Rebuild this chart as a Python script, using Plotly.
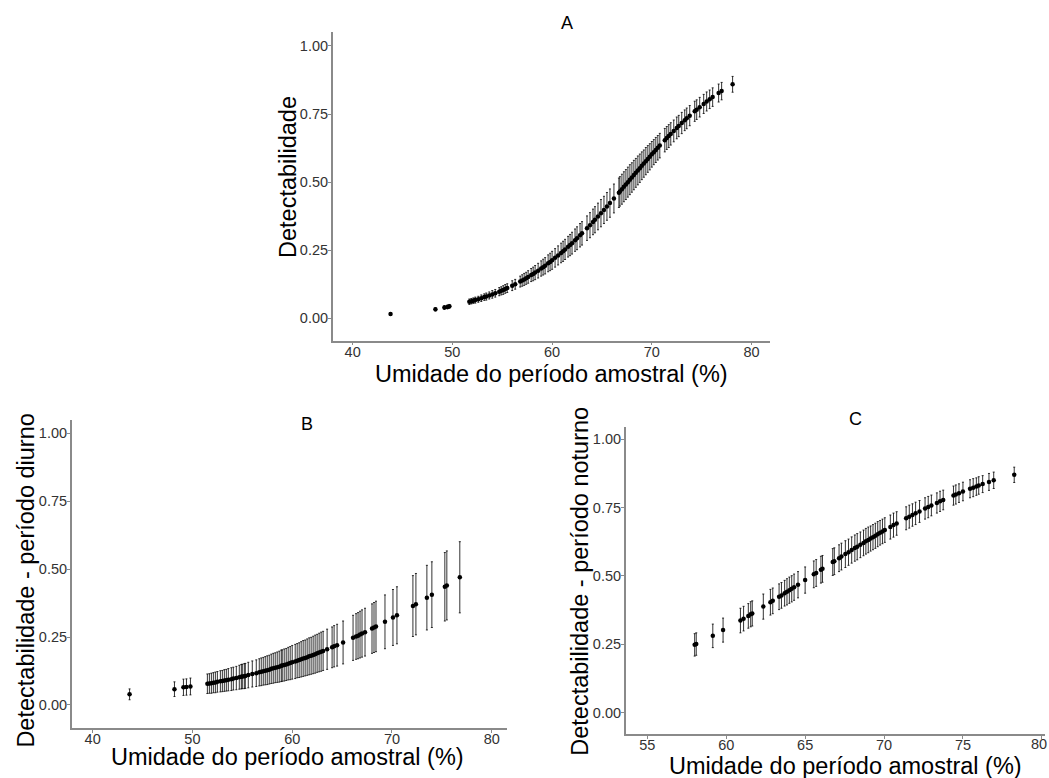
import plotly.graph_objects as go

# ---------------- data ----------------
A_x = [43.8, 48.3, 49.2, 49.5, 49.7,
       51.7, 51.9, 52.1, 52.3, 52.6, 52.9, 53.2, 53.4, 53.7, 54.0, 54.3, 54.7, 54.9, 55.1, 55.3, 55.5,
       56.0, 56.3,
       56.8, 57.0, 57.2, 57.4, 57.6, 57.9, 58.1, 58.3, 58.6, 58.9, 59.1, 59.3, 59.6, 59.8, 60.0, 60.3,
       60.6, 60.9, 61.1, 61.3, 61.6, 61.8, 62.0, 62.3, 62.5, 62.8, 63.0, 63.5, 63.8, 64.1, 64.3, 64.6,
       64.9, 65.2, 65.5, 65.8, 66.2,
       66.7, 66.8, 67.0, 67.2, 67.4, 67.6, 67.8, 68.0, 68.2, 68.4, 68.6, 68.8, 69.0, 69.2, 69.4, 69.6,
       69.8, 70.0, 70.2, 70.4, 70.6, 70.8,
       71.3, 71.5, 71.7, 71.9, 72.2, 72.5, 72.7, 73.0, 73.3, 73.5, 73.8,
       74.3, 74.5, 74.8, 75.2, 75.5, 75.8, 76.1, 76.7, 77.0, 78.1]
A_y = [0.016, 0.033, 0.040, 0.042, 0.044,
       0.061, 0.063, 0.065, 0.067, 0.070, 0.074, 0.078, 0.080, 0.084, 0.088, 0.092, 0.098, 0.101, 0.104, 0.108, 0.111,
       0.120, 0.125,
       0.135, 0.139, 0.143, 0.147, 0.152, 0.159, 0.163, 0.168, 0.175, 0.183, 0.188, 0.193, 0.202, 0.207, 0.213, 0.222,
       0.231, 0.240, 0.246, 0.253, 0.263, 0.269, 0.276, 0.287, 0.294, 0.305, 0.312, 0.331, 0.342, 0.354, 0.362, 0.374,
       0.386, 0.398, 0.411, 0.423, 0.440,
       0.461, 0.466, 0.474, 0.483, 0.491, 0.500, 0.509, 0.517, 0.526, 0.534, 0.543, 0.551, 0.560, 0.568, 0.577, 0.585,
       0.593, 0.602, 0.610, 0.618, 0.626, 0.634,
       0.654, 0.662, 0.669, 0.677, 0.688, 0.699, 0.706, 0.717, 0.727, 0.734, 0.744,
       0.760, 0.766, 0.775, 0.787, 0.796, 0.804, 0.812, 0.827, 0.834, 0.859]
A_err = [0.005, 0.006, 0.007, 0.007, 0.007,
         0.010, 0.010, 0.010, 0.011, 0.011, 0.012, 0.012, 0.013, 0.013, 0.014, 0.014, 0.015, 0.015, 0.016, 0.016, 0.016,
         0.018, 0.018,
         0.020, 0.021, 0.022, 0.022, 0.023, 0.024, 0.025, 0.026, 0.027, 0.028, 0.029, 0.030, 0.031, 0.032, 0.033, 0.034,
         0.035, 0.036, 0.037, 0.037, 0.038, 0.039, 0.040, 0.041, 0.042, 0.043, 0.043, 0.045, 0.046, 0.047, 0.048, 0.049,
         0.050, 0.050, 0.051, 0.052, 0.053,
         0.054, 0.054, 0.055, 0.055, 0.055, 0.055, 0.055, 0.054, 0.054, 0.053, 0.053, 0.052, 0.051, 0.050, 0.050, 0.049,
         0.048, 0.047, 0.046, 0.046, 0.045, 0.045,
         0.043, 0.042, 0.042, 0.041, 0.040, 0.040, 0.039, 0.039, 0.038, 0.038, 0.037,
         0.037, 0.036, 0.036, 0.035, 0.035, 0.034, 0.034, 0.033, 0.032, 0.029]

B_x = [43.7, 48.2, 49.1, 49.4, 49.8,
       51.5, 51.7, 51.9, 52.1, 52.3, 52.5, 52.8, 53.0, 53.2, 53.4, 53.6, 53.9, 54.1, 54.4, 54.7, 54.9, 55.0, 55.2, 55.3, 55.6,
       56.0, 56.4, 56.7, 56.9, 57.1, 57.3, 57.5, 57.7, 57.9, 58.1, 58.3, 58.5, 58.7, 58.9, 59.0, 59.2, 59.4, 59.6, 59.8, 60.0,
       60.3, 60.5, 60.7, 60.9, 61.1, 61.3, 61.5, 61.7, 61.9, 62.1, 62.3, 62.5, 62.7, 62.9, 63.1, 63.5,
       64.0, 64.2, 64.5, 65.1, 66.1, 66.4, 66.6, 66.8, 67.0, 67.3, 68.0, 68.2, 68.4, 69.3, 70.1, 70.5,
       72.1, 72.4, 73.5, 74.0, 75.3, 75.5, 76.8]
B_y = [0.039, 0.058, 0.065, 0.066, 0.068,
       0.078, 0.079, 0.080, 0.082, 0.083, 0.085, 0.087, 0.088, 0.090, 0.091, 0.093, 0.095, 0.097, 0.099, 0.102, 0.104, 0.105, 0.106, 0.107, 0.110,
       0.114, 0.117, 0.120, 0.122, 0.124, 0.126, 0.128, 0.130, 0.133, 0.135, 0.137, 0.139, 0.141, 0.144, 0.145, 0.147, 0.149, 0.152, 0.154, 0.157,
       0.160, 0.163, 0.165, 0.168, 0.171, 0.173, 0.176, 0.179, 0.181, 0.184, 0.187, 0.190, 0.193, 0.196, 0.199, 0.205,
       0.212, 0.216, 0.220, 0.230, 0.247, 0.252, 0.255, 0.259, 0.263, 0.268, 0.281, 0.285, 0.289, 0.306, 0.322, 0.330,
       0.364, 0.371, 0.395, 0.406, 0.435, 0.440, 0.470]
B_err = [0.020, 0.027, 0.030, 0.030, 0.031,
         0.036, 0.036, 0.037, 0.037, 0.038, 0.038, 0.039, 0.039, 0.040, 0.040, 0.041, 0.042, 0.042, 0.043, 0.044, 0.045, 0.045, 0.046, 0.046, 0.047,
         0.048, 0.049, 0.050, 0.051, 0.051, 0.052, 0.053, 0.053, 0.054, 0.055, 0.055, 0.056, 0.057, 0.058, 0.058, 0.059, 0.059, 0.060, 0.061, 0.062,
         0.063, 0.063, 0.064, 0.065, 0.066, 0.066, 0.067, 0.068, 0.068, 0.069, 0.070, 0.070, 0.071, 0.072, 0.072, 0.074,
         0.075, 0.076, 0.077, 0.079, 0.083, 0.084, 0.085, 0.086, 0.087, 0.088, 0.091, 0.092, 0.093, 0.099, 0.103, 0.105,
         0.112, 0.113, 0.119, 0.121, 0.126, 0.127, 0.131]

C_x = [58.0, 58.1, 59.15, 59.8, 60.9, 61.1, 61.4, 61.55, 61.65, 62.35,
       62.8, 62.95, 63.35, 63.5, 63.7, 63.85, 64.0, 64.15, 64.3, 64.55,
       65.0, 65.55, 65.7, 66.0, 66.1, 66.75, 66.85, 67.15, 67.3, 67.55,
       67.75, 67.95, 68.15, 68.3, 68.5, 68.7, 68.85, 69.0, 69.15, 69.3,
       69.45, 69.6, 69.75, 69.9, 70.05, 70.4, 70.6, 70.8, 71.4, 71.6,
       71.8, 72.0, 72.25, 72.6, 72.8, 73.0, 73.35, 73.55, 73.75, 74.4,
       74.55, 74.75, 75.0, 75.45, 75.65, 75.85, 76.0, 76.25, 76.65, 76.95,
       78.25]
C_y = [0.248, 0.251, 0.281, 0.302, 0.337, 0.344, 0.354, 0.360, 0.363, 0.388,
       0.404, 0.409, 0.424, 0.429, 0.437, 0.442, 0.448, 0.453, 0.459, 0.468,
       0.485, 0.506, 0.511, 0.523, 0.526, 0.551, 0.554, 0.565, 0.571, 0.580,
       0.587, 0.595, 0.602, 0.607, 0.614, 0.621, 0.627, 0.632, 0.637, 0.642,
       0.647, 0.653, 0.658, 0.663, 0.668, 0.679, 0.686, 0.692, 0.711, 0.717,
       0.723, 0.729, 0.736, 0.747, 0.752, 0.758, 0.767, 0.773, 0.778, 0.794,
       0.798, 0.803, 0.809, 0.819, 0.823, 0.827, 0.831, 0.836, 0.844, 0.850,
       0.870]
C_err = [0.041, 0.041, 0.043, 0.044, 0.045, 0.045, 0.045, 0.046, 0.046, 0.046,
         0.047, 0.047, 0.047, 0.047, 0.047, 0.048, 0.048, 0.048, 0.048, 0.048,
         0.048, 0.049, 0.049, 0.049, 0.049, 0.049, 0.049, 0.049, 0.049, 0.049,
         0.048, 0.048, 0.048, 0.048, 0.047, 0.047, 0.047, 0.047, 0.046, 0.046,
         0.046, 0.046, 0.045, 0.045, 0.045, 0.044, 0.044, 0.043, 0.042, 0.042,
         0.041, 0.041, 0.040, 0.039, 0.039, 0.038, 0.037, 0.037, 0.036, 0.035,
         0.035, 0.034, 0.034, 0.033, 0.033, 0.032, 0.032, 0.031, 0.031, 0.030,
         0.028]

Y_TICKS = [0, 0.25, 0.5, 0.75, 1.0]
Y_TICKTEXT = ["0.00", "0.25", "0.50", "0.75", "1.00"]
X_TICKS_AB = [40, 50, 60, 70, 80]
X_TICKS_C = [55, 60, 65, 70, 75, 80]

PANEL_TITLES = ["A", "B", "C"]
X_TITLE = "Umidade do período amostral (%)"
Y_TITLES = ["Detectabilidade", "Detectabilidade - período diurno", "Detectabilidade - período noturno"]

for xs, ys, es in [(A_x, A_y, A_err), (B_x, B_y, B_err), (C_x, C_y, C_err)]:
    assert len(xs) == len(ys) == len(es), (len(xs), len(ys), len(es))

# ---------------- figure ----------------
W, H = 1049, 778
FONT = "Arial, 'Liberation Sans', sans-serif"
AXIS_COL = "#8a8a8a"
TICK_COL = "#333333"
TICK_SIZE = 14.5


def px_x(p):
    return p / W


def px_y(p):
    return 1 - p / H


fig = go.Figure()

for xs, ys, es, xa, ya in [(A_x, A_y, A_err, "x", "y"),
                           (B_x, B_y, B_err, "x2", "y2"),
                           (C_x, C_y, C_err, "x3", "y3")]:
    fig.add_trace(go.Scatter(
        x=xs, y=ys, mode="markers", xaxis=xa, yaxis=ya,
        marker=dict(color="black", size=4.5),
        error_y=dict(type="data", array=es, symmetric=True, width=1,
                     thickness=1, color="rgba(0,0,0,0.8)"),
        showlegend=False, hoverinfo="skip"))

common_ax = dict(showline=True, linecolor=AXIS_COL, linewidth=1.5, ticks="outside",
                 ticklen=3, tickwidth=1, tickcolor=AXIS_COL, showgrid=False,
                 zeroline=False, mirror=False,
                 tickfont=dict(family=FONT, size=TICK_SIZE, color=TICK_COL))

# panel geometry in pixels (left, right, top, bottom)
geo = {
    "A": (332.7, 770.0, 32.0, 340.7),
    "B": (71.7, 507.0, 420.0, 728.3),
    "C": (625.7, 1045.0, 426.7, 734.0),
}

layout = dict(
    width=W, height=H, margin=dict(l=0, r=0, t=0, b=0),
    paper_bgcolor="white", plot_bgcolor="white",
    font=dict(family=FONT, color="black"),
)

for key, xn, yn, xr, yr, xt, anchor_x, anchor_y in [
        ("A", "xaxis", "yaxis", [38.0, 81.85], [-0.082, 1.051], X_TICKS_AB, "y", "x"),
        ("B", "xaxis2", "yaxis2", [37.9, 81.53], [-0.086, 1.049], X_TICKS_AB, "y2", "x2"),
        ("C", "xaxis3", "yaxis3", [53.63, 80.2], [-0.078, 1.046], X_TICKS_C, "y3", "x3")]:
    l, r, t, b = geo[key]
    layout[xn] = dict(common_ax, domain=[px_x(l), px_x(r)], range=xr, anchor=anchor_x,
                      tickvals=xt, ticktext=[str(v) for v in xt], ticklabelstandoff=-6)
    layout[yn] = dict(common_ax, domain=[px_y(b), px_y(t)], range=yr, anchor=anchor_y,
                      tickvals=Y_TICKS, ticktext=Y_TICKTEXT, ticklabelstandoff=-3)

fig.update_layout(**layout)

TITLE_SIZE = 23.5
ann = []
# panel letters
for txt, (x, y) in zip(PANEL_TITLES, [(566.7, 23.3), (306.7, 424.0), (855.0, 419.3)]):
    ann.append(dict(text=txt, x=px_x(x), y=px_y(y), xref="paper", yref="paper",
                    xanchor="center", yanchor="middle", showarrow=False,
                    font=dict(family=FONT, size=18, color="black")))
# x titles
for (x, y) in [(552.0, 374.0), (287.0, 757.0), (845.8, 766.0)]:
    ann.append(dict(text=X_TITLE, x=px_x(x), y=px_y(y), xref="paper", yref="paper",
                    xanchor="center", yanchor="middle", showarrow=False,
                    font=dict(family=FONT, size=TITLE_SIZE, color="black")))
# y titles
for txt, (x, y) in zip(Y_TITLES, [(287.5, 177.5), (25.8, 580.8), (580.0, 581.7)]):
    ann.append(dict(text=txt, x=px_x(x), y=px_y(y), xref="paper", yref="paper",
                    xanchor="center", yanchor="middle", showarrow=False, textangle=-90,
                    font=dict(family=FONT, size=TITLE_SIZE, color="black")))

# the last tick label of panel C sits on the right edge of the picture
ann.append(dict(text=str(X_TICKS_C[-1]), x=1.0, y=px_y(744.0), xref="paper", yref="paper",
                xanchor="right", yanchor="middle", showarrow=False,
                font=dict(family=FONT, size=TICK_SIZE, color=TICK_COL)))

fig.update_layout(annotations=ann)

fig.write_html("out.html")
